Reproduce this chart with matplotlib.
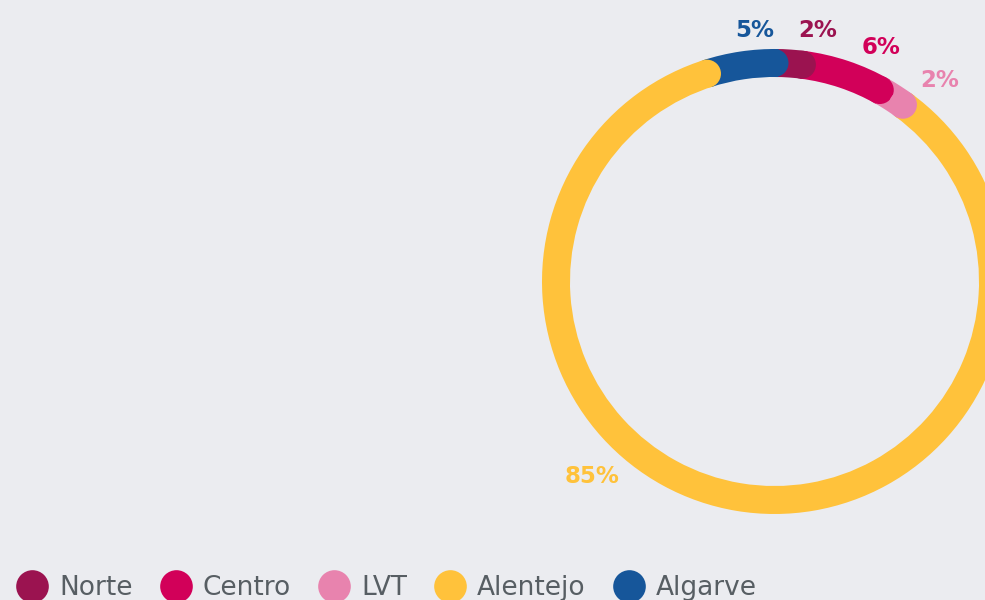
import numpy as np
import matplotlib
matplotlib.use("Agg")
import matplotlib.pyplot as plt
from matplotlib.patches import Wedge, Circle
from matplotlib.lines import Line2D

# data
regions = ["Norte", "Centro", "LVT", "Alentejo", "Algarve"]
shares = [2, 6, 2, 85, 5]
colors = ["#9b1350", "#d20059", "#e883ae", "#ffc23b", "#16569a"]

BG = "#ebecf0"
W, H = 985, 600

fig = plt.figure(figsize=(W / 100, H / 100), dpi=100, facecolor=BG)
ax = fig.add_axes([0, 0, 1, 1])
ax.set_xlim(0, W)
ax.set_ylim(0, H)
ax.set_facecolor(BG)
ax.axis("off")

# ring geometry (pixel units)
cx, cy = 774.5, H - 281.5
r_out, width = 232.5, 28
r_mid = r_out - width / 2

total = sum(shares)
ends = np.cumsum(shares) / total * 360.0   # clockwise from top
starts = ends - np.array(shares) / total * 360.0

# ring segments (slightly overlapping so there is no seam)
for s, e, c in zip(starts, ends, colors):
    ax.add_patch(Wedge((cx, cy), r_out, 90 - e - 1, 90 - s, width=width,
                       facecolor=c, edgecolor="none"))

# rounded ends drawn on top of the next slice
for e, c in zip(ends, colors):
    t = np.radians(e)
    ax.add_patch(Circle((cx + r_mid * np.sin(t), cy + r_mid * np.cos(t)),
                        width / 2, facecolor=c, edgecolor="none"))

# percentage labels
label_r = [255, 257, 260, 267, 252]
label_nudge = [6.2, 6.5, 7.0, 34, 4.6]   # degrees, clockwise
for s, e, c, v, lr, dn in zip(starts, ends, colors, shares, label_r, label_nudge):
    a = np.radians((s + e) / 2 + dn)
    ax.text(cx + lr * np.sin(a), cy + lr * np.cos(a), f"{v}%",
            color=c, fontsize=16.5, fontweight="bold",
            ha="center", va="center")

# legend
handles = [Line2D([], [], linestyle="none", marker="o", markersize=23.5,
                  markerfacecolor=c, markeredgecolor="none") for c in colors]
ax.legend(handles, regions, loc="center left", ncol=5,
          bbox_to_anchor=(16, H - 588), bbox_transform=ax.transData,
          frameon=False, fontsize=19, labelcolor="#575e63",
          handlelength=1.25, handletextpad=0.4, columnspacing=1.0,
          borderpad=0, borderaxespad=0)

fig.savefig("out.png", dpi=100, facecolor=BG)
